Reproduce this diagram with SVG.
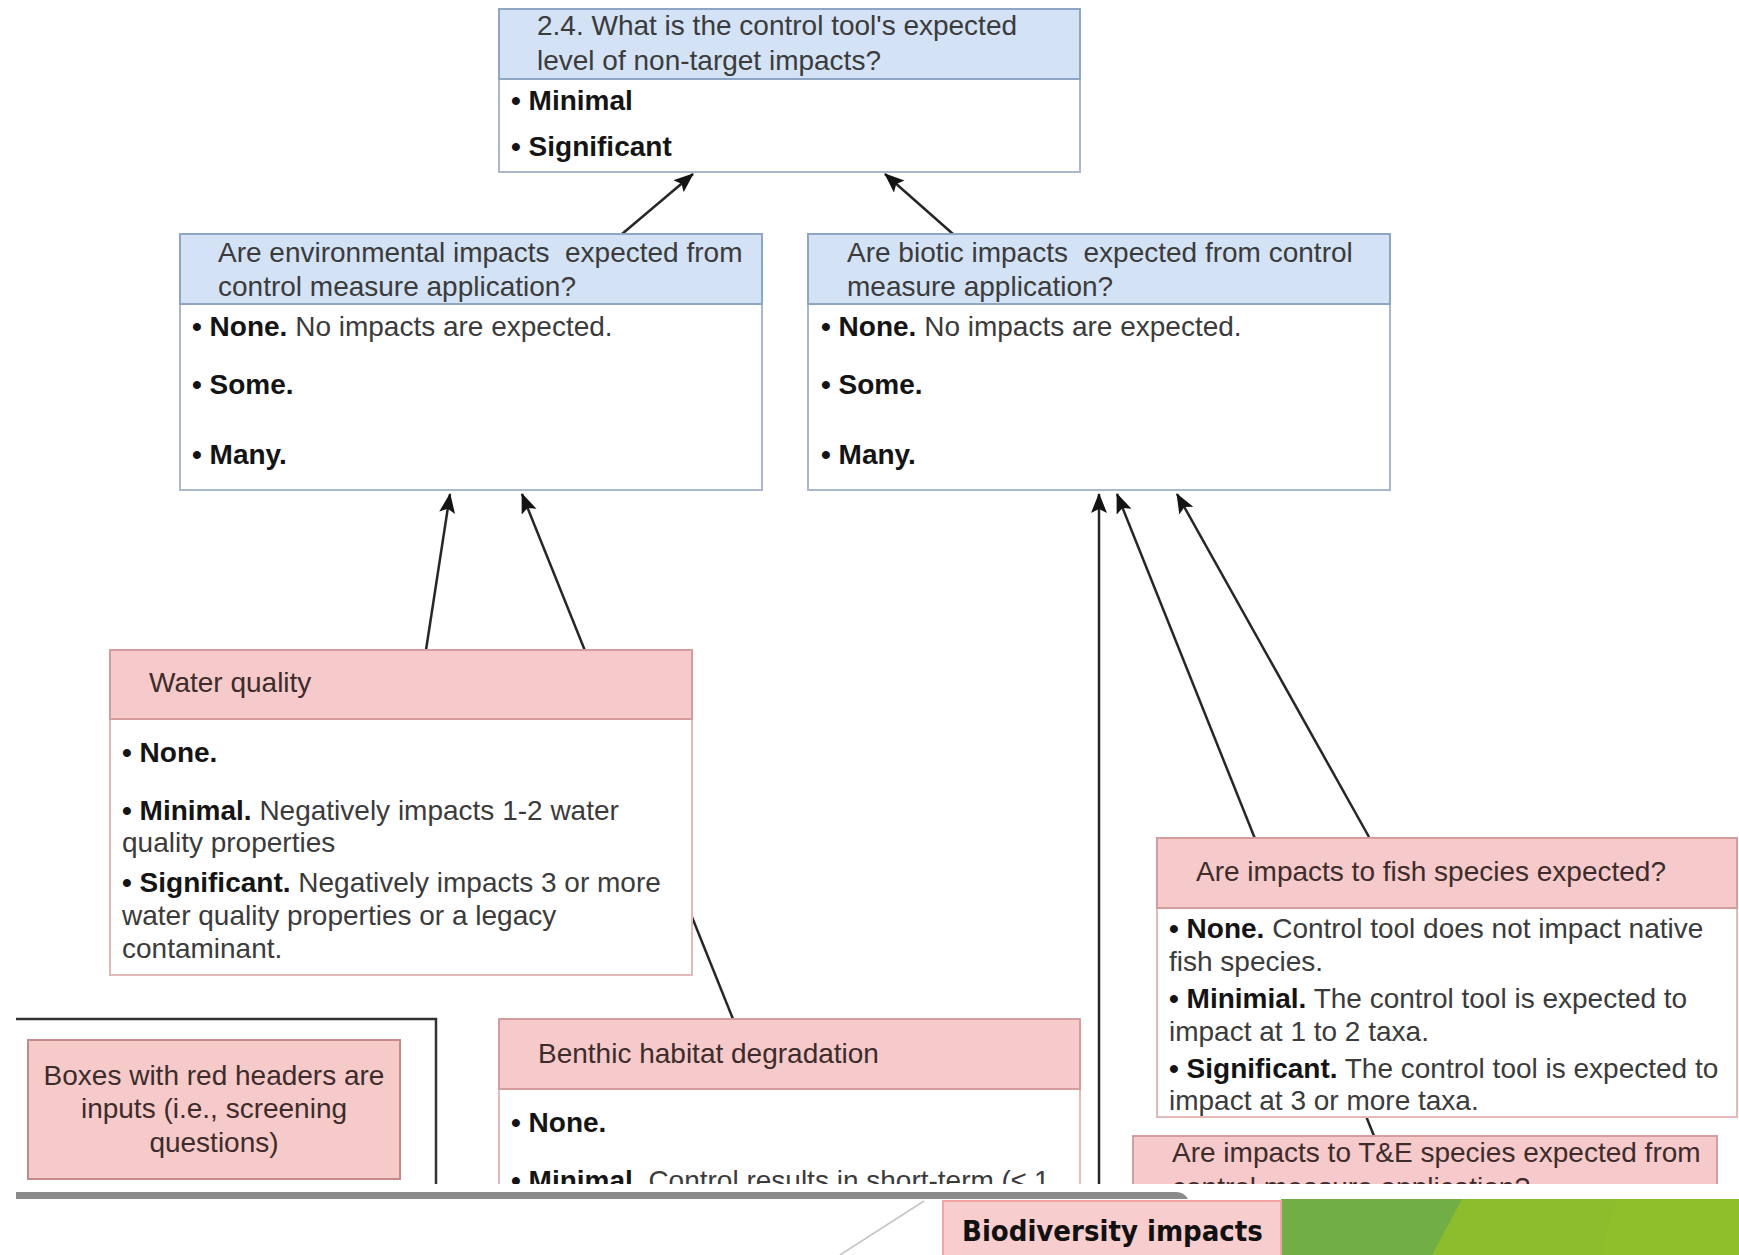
<svg xmlns="http://www.w3.org/2000/svg" width="1739" height="1255" viewBox="0 0 1739 1255">
<style>
.hb{fill:#d3e2f5;stroke:#8ea5c4;stroke-width:2}
.bb{fill:#ffffff;stroke:#a9b8cd;stroke-width:2}
.hp{fill:#f6caca;stroke:#d49c9c;stroke-width:2}
.bp{fill:#ffffff;stroke:#e3b9b9;stroke-width:2}
.t{font-family:"Liberation Sans",Arial,sans-serif;font-size:28px;fill:#3b3b3b}
.tp{font-family:"Liberation Sans",Arial,sans-serif;font-size:28px;fill:#3d2c2c}
.b{font-weight:bold;fill:#141414}
.c{stroke:#262626;stroke-width:2.5;fill:none;marker-end:url(#ah)}
</style>
<defs>
<marker id="ah" markerUnits="userSpaceOnUse" markerWidth="24" markerHeight="18" refX="19" refY="8" orient="auto">
<path d="M0,0 L20,8 L0,16 L4,8 z" fill="#141414"/>
</marker>
<clipPath id="clipTop"><rect x="0" y="0" width="1739" height="1184"/></clipPath>
</defs>
<rect x="0" y="0" width="1739" height="1255" fill="#ffffff"/>
<g clip-path="url(#clipTop)">
<g id="connectors">
<line class="c" x1="622" y1="234" x2="693" y2="174"/>
<line class="c" x1="953" y1="234" x2="885" y2="174"/>
<line class="c" x1="426" y1="650" x2="450" y2="494"/>
<line class="c" x1="733" y1="1019" x2="522" y2="494"/>
<line class="c" x1="1099" y1="1195" x2="1099" y2="494"/>
<line class="c" x1="1374" y1="1136" x2="1117" y2="494"/>
<line class="c" x1="1369" y1="837" x2="1177" y2="494"/>
</g>
<g id="legend-frame">
<polyline points="16,1019 436,1019 436,1195" fill="none" stroke="#333333" stroke-width="2.5"/>
</g>
<g id="node-top">
<rect class="bb" x="499" y="9" width="581" height="163"/>
<rect class="hb" x="499" y="9" width="581" height="70"/>
<text class="t" x="537" y="35">2.4. What is the control tool's expected</text>
<text class="t" x="537" y="70">level of non-target impacts?</text>
<text class="t b" x="511" y="110">• Minimal</text>
<text class="t b" x="511" y="156">• Significant</text>
</g>
<g id="node-env">
<rect class="bb" x="180" y="234" width="582" height="256"/>
<rect class="hb" x="180" y="234" width="582" height="70"/>
<text class="t" x="218" y="262">Are environmental impacts&#160; expected from</text>
<text class="t" x="218" y="296">control measure application?</text>
<text class="t" x="192" y="336"><tspan class="b">• None.</tspan> No impacts are expected.</text>
<text class="t b" x="192" y="394">• Some.</text>
<text class="t b" x="192" y="464">• Many.</text>
</g>
<g id="node-biotic">
<rect class="bb" x="808" y="234" width="582" height="256"/>
<rect class="hb" x="808" y="234" width="582" height="70"/>
<text class="t" x="847" y="262">Are biotic impacts&#160; expected from control</text>
<text class="t" x="847" y="296">measure application?</text>
<text class="t" x="821" y="336"><tspan class="b">• None.</tspan> No impacts are expected.</text>
<text class="t b" x="821" y="394">• Some.</text>
<text class="t b" x="821" y="464">• Many.</text>
</g>
<g id="node-water">
<rect class="bp" x="110" y="650" width="582" height="325"/>
<rect class="hp" x="110" y="650" width="582" height="69"/>
<text class="tp" x="149" y="692">Water quality</text>
<text class="t b" x="122" y="762">• None.</text>
<text class="t" x="122" y="820"><tspan class="b">• Minimal.</tspan> Negatively impacts 1-2 water</text>
<text class="t" x="122" y="852">quality properties</text>
<text class="t" x="122" y="892"><tspan class="b">• Significant.</tspan> Negatively impacts 3 or more</text>
<text class="t" x="122" y="925">water quality properties or a legacy</text>
<text class="t" x="122" y="958">contaminant.</text>
</g>
<g id="node-legend">
<rect x="28" y="1040" width="372" height="139" fill="#f7caca" stroke="#c48a8a" stroke-width="2"/>
<text class="tp" x="214" y="1085" text-anchor="middle">Boxes with red headers are</text>
<text class="tp" x="214" y="1118" text-anchor="middle">inputs (i.e., screening</text>
<text class="tp" x="214" y="1152" text-anchor="middle">questions)</text>
</g>
<g id="node-benthic">
<rect class="bp" x="499" y="1019" width="581" height="200"/>
<rect class="hp" x="499" y="1019" width="581" height="70"/>
<text class="tp" x="538" y="1063">Benthic habitat degradation</text>
<text class="t b" x="511" y="1132">• None.</text>
<text class="t" x="511" y="1190"><tspan class="b">• Minimal</tspan>&#160; Control results in short-term (≤ 1</text>
</g>
<g id="node-fish">
<rect class="bp" x="1157" y="838" width="580" height="279"/>
<rect class="hp" x="1157" y="838" width="580" height="70"/>
<text class="tp" x="1196" y="881">Are impacts to fish species expected?</text>
<text class="t" x="1169" y="938"><tspan class="b">• None.</tspan> Control tool does not impact native</text>
<text class="t" x="1169" y="971">fish species.</text>
<text class="t" x="1169" y="1008"><tspan class="b">• Minimial.</tspan> The control tool is expected to</text>
<text class="t" x="1169" y="1041">impact at 1 to 2 taxa.</text>
<text class="t" x="1169" y="1078"><tspan class="b">• Significant.</tspan> The control tool is expected to</text>
<text class="t" x="1169" y="1110">impact at 3 or more taxa.</text>
</g>
<g id="node-te">
<rect class="hp" x="1133" y="1136" width="584" height="80"/>
<text class="tp" x="1172" y="1162">Are impacts to T&amp;E species expected from</text>
<text class="tp" x="1172" y="1197">control measure application?</text>
</g>
</g>
<g id="footer">
<path d="M16,1192 L1176,1192 Q1184,1192 1188,1199 L16,1199 z" fill="#8a8a8a"/>
<line x1="840" y1="1255" x2="924" y2="1201" stroke="#c4c4c4" stroke-width="1.5"/>
<rect x="1281" y="1199" width="458" height="56" fill="#72ae46"/>
<polygon points="1432,1255 1462,1199 1739,1199 1739,1255" fill="#8bbd2d"/>
<polygon points="1600,1255 1616,1199 1739,1199 1739,1255" fill="#90c12a" opacity="0.6"/>
<rect x="943" y="1201" width="338" height="56" fill="#f8cdcd" stroke="#f1a3a3" stroke-width="2"/>
<text x="962" y="1241" font-family="'DejaVu Sans Condensed','DejaVu Sans',sans-serif" font-weight="bold" font-size="29" fill="#111111">Biodiversity impacts</text>
</g>
</svg>
